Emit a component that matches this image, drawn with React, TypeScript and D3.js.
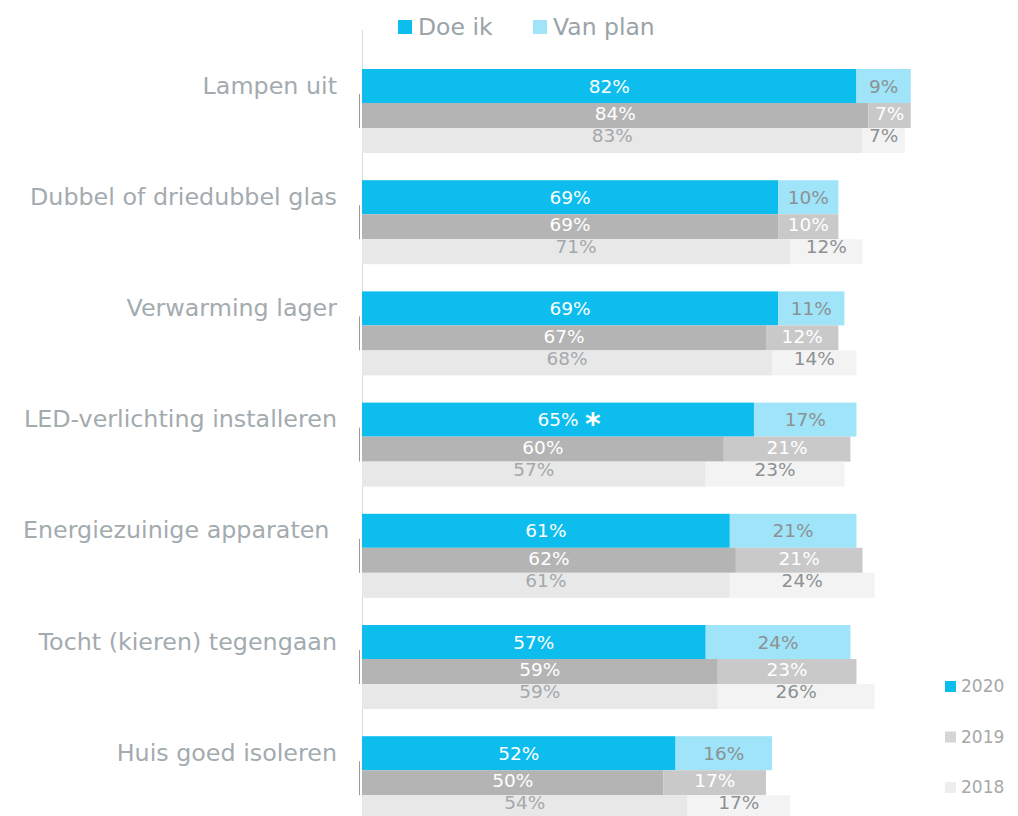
import React from "react";
import * as d3 from "d3";

const categories = [
  "Lampen uit",
  "Dubbel of driedubbel glas",
  "Verwarming lager",
  "LED-verlichting installeren",
  "Energiezuinige apparaten\u00a0",
  "Tocht (kieren) tegengaan",
  "Huis goed isoleren",
];
const years = ["2020", "2019", "2018"];
const doeIk2020 = [82, 69, 69, 65, 61, 57, 52];
const vanPlan2020 = [9, 10, 11, 17, 21, 24, 16];
const doeIk2019 = [84, 69, 67, 60, 62, 59, 50];
const vanPlan2019 = [7, 10, 12, 21, 21, 23, 17];
const doeIk2018 = [83, 71, 68, 57, 61, 59, 54];
const vanPlan2018 = [7, 12, 14, 23, 24, 26, 17];
const seriesNames = ["Doe ik", "Van plan"];
const markedCategory = "LED-verlichting installeren";

const FONT = "'DejaVu Sans', Verdana, sans-serif";

const yearStyles = [
  { h: 34, doe: "#0DBDEE", plan: "#9FE4F8", doeText: "#FFFFFF", planText: "#8C9194", dy: 0 },
  { h: 25, doe: "#B4B4B4", plan: "#C9C9C9", doeText: "#FFFFFF", planText: "#FFFFFF", dy: -2 },
  { h: 25, doe: "#E8E8E8", plan: "#F3F3F3", doeText: "#A3A9AC", planText: "#8C9194", dy: -5 },
];

export default function App() {
  const W = 1018;
  const H = 816;
  const x = d3.scaleLinear().domain([0, 100]).range([362, 965]);
  const y = d3
    .scaleBand<string>()
    .domain(categories)
    .range([69, 69 + 111.2 * categories.length])
    .paddingInner(0)
    .paddingOuter(0);

  const data = [
    [doeIk2020, vanPlan2020],
    [doeIk2019, vanPlan2019],
    [doeIk2018, vanPlan2018],
  ];

  const labelSize = 18.5;

  return (
    <svg width={W} height={H} style={{ position: "absolute", left: 0, top: 0, background: "#fff" }}>
      <rect x={0} y={0} width={W} height={H} fill="#fff" />
      {/* axis line */}
      <line x1={362.5} x2={362.5} y1={30} y2={H} stroke="#DADADA" strokeWidth={1} />
      {categories.map((c, i) => {
        const top = y(c)!;
        let offs = 0;
        return (
          <g key={c}>
            {years.map((yr, k) => {
              const st = yearStyles[k];
              const y0 = top + offs;
              offs += st.h;
              const doe = data[k][0][i];
              const plan = data[k][1][i];
              const cy = y0 + st.h / 2 + st.dy;
              return (
                <g key={yr}>
                  <rect x={x(0)} y={y0} width={x(doe) - x(0)} height={st.h} fill={st.doe} />
                  <rect x={x(doe)} y={y0} width={x(doe + plan) - x(doe)} height={st.h} fill={st.plan} />
                  {k === 1 && (
                    <line x1={359.5} x2={359.5} y1={y0 - 9} y2={y0 + st.h} stroke="#9A9A9A" strokeWidth={1} />
                  )}
                  <text
                    x={(x(0) + x(doe)) / 2}
                    y={cy}
                    dy="0.36em"
                    textAnchor="middle"
                    fontFamily={FONT}
                    fontSize={labelSize}
                    fill={st.doeText}
                  >
                    {doe}%
                  </text>
                  {k === 0 && c === markedCategory && (
                    <text
                      x={(x(0) + x(doe)) / 2 + 27}
                      y={cy + 4}
                      dy="0.36em"
                      fontFamily={FONT}
                      fontWeight="bold"
                      fontSize={30}
                      fill="#FFFFFF"
                    >
                      *
                    </text>
                  )}
                  <text
                    x={(x(doe) + x(doe + plan)) / 2}
                    y={cy}
                    dy="0.36em"
                    textAnchor="middle"
                    fontFamily={FONT}
                    fontSize={labelSize}
                    fill={st.planText}
                  >
                    {plan}%
                  </text>
                </g>
              );
            })}
            <text
              x={337}
              y={top + 16}
              dy="0.36em"
              textAnchor="end"
              fontFamily={FONT}
              fontSize={23.8}
              fill="#A3ABAF"
            >
              {c}
            </text>
          </g>
        );
      })}
      {/* top legend */}
      {seriesNames.map((s, i) => {
        const lx = [398, 533][i];
        return (
          <g key={s}>
            <rect x={lx} y={20} width={14} height={14} fill={yearStyles[0][i === 0 ? "doe" : "plan"]} />
            <text x={lx + 20} y={27} dy="0.36em" fontFamily={FONT} fontSize={23.5} fill="#9AA3A7">
              {s}
            </text>
          </g>
        );
      })}
      {/* year legend */}
      {years.map((yr, k) => {
        const ly = 686 + k * 50.5;
        return (
          <g key={yr}>
            <rect x={945} y={ly - 5} width={11} height={11} fill={k === 0 ? "#0DBDEE" : k === 1 ? "#D3D5D6" : "#EEEEEE"} />
            <text x={961} y={ly} dy="0.36em" fontFamily={FONT} fontSize={17} fill="#A5A8AA">
              {yr}
            </text>
          </g>
        );
      })}
    </svg>
  );
}
